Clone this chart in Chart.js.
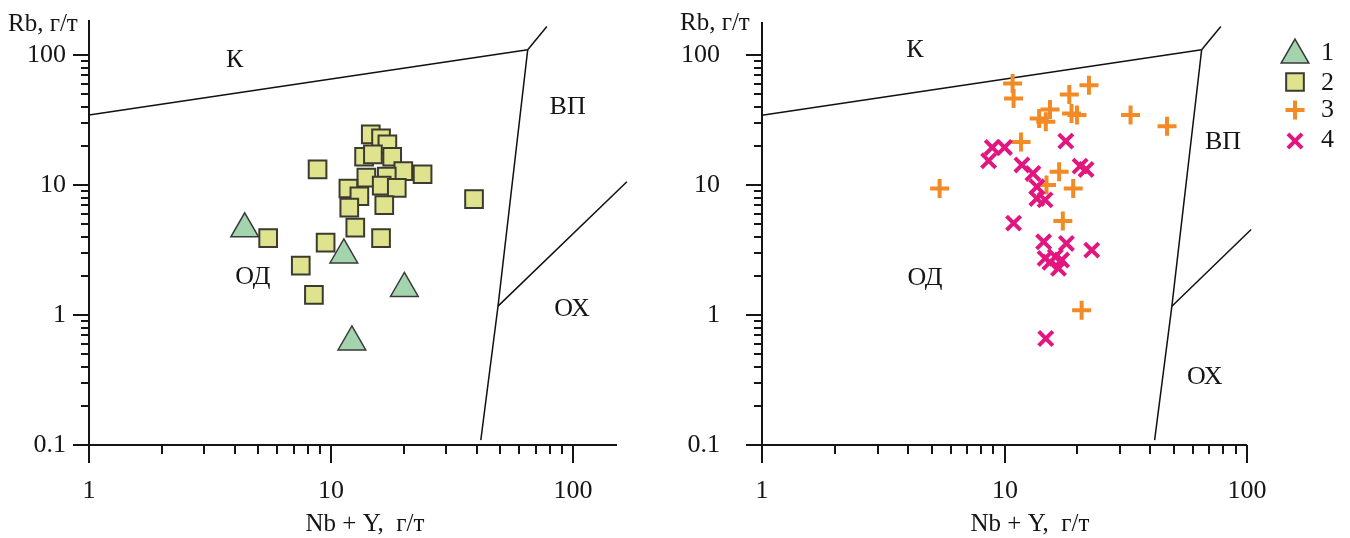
<!DOCTYPE html>
<html>
<head>
<meta charset="utf-8">
<script src="https://cdn.jsdelivr.net/npm/chart.js@4.4.1/dist/chart.umd.min.js"></script>
<style>
  html, body { margin: 0; padding: 0; background: #fff; }
  #wrap { position: relative; width: 1350px; height: 538px; }
  canvas { position: absolute; top: 0; }
  #left { left: 0; }
  #right { left: 675px; }
</style>
</head>
<body>
<div id="wrap">
  <canvas id="left" width="675" height="538"></canvas>
  <canvas id="right" width="675" height="538"></canvas>
</div>
<script>
// --- data (Nb+Y, Rb in г/т) ---
const g1X = [4.4, 11.3, 20.1, 12.2];
const g1Y = [4.6, 2.9, 1.6, 0.62];

const g2X = [14.6, 16.1, 17.1, 13.7, 14.9, 17.9, 19.9, 23.9, 14.0, 17.0, 16.2, 18.7, 11.8, 13.1, 16.6, 11.9, 12.6, 8.8, 39.0, 5.5, 9.5, 16.1, 7.5, 8.5];
const g2Y = [24.5, 22.9, 20.6, 16.5, 17.2, 16.5, 12.8, 12.1, 11.4, 11.6, 9.9, 9.5, 9.4, 8.2, 7.0, 6.7, 4.7, 13.2, 7.8, 3.9, 3.6, 3.9, 2.4, 1.43];

const g3X = [10.8, 10.9, 22.3, 18.5, 15.4, 13.9, 14.8, 18.9, 19.9, 33.1, 46.8, 11.7, 5.4, 16.8, 14.9, 19.2, 17.4, 20.8];
const g3Y = [60.6, 46.4, 58.8, 49.9, 38.2, 32.6, 30.7, 35.6, 34.6, 34.6, 28.4, 21.5, 9.4, 12.7, 10.0, 9.4, 5.3, 1.09];

const g4X = [17.9, 8.9, 10.0, 8.6, 11.8, 13.1, 20.5, 21.7, 13.6, 13.6, 14.7, 10.9, 14.5, 18.0, 22.9, 14.7, 16.2, 17.2, 16.7, 14.8, 15.4];
const g4Y = [21.8, 19.5, 19.5, 15.4, 14.3, 12.3, 14.0, 13.2, 9.7, 7.9, 7.7, 5.1, 3.66, 3.56, 3.16, 2.73, 2.81, 2.65, 2.29, 0.66, 2.55];

// field boundaries
const kLineX = [1, 65];       const kLineY = [34.5, 110];
const topLineX = [65, 78];    const topLineY = [110, 166];
const wpgLineX = [65, 49, 41.6]; const wpgLineY = [110, 1.17, 0.109];
const orgLeftX = [49, 167];   const orgLeftY = [1.17, 10.6];
const orgRightX = [49, 104];  const orgRightY = [1.17, 4.55];

// field names
const fieldNames = ['К', 'ВП', 'ОД', 'ОХ'];
const fieldLeftX = [4.0, 95, 4.76, 99];
const fieldLeftY = [92, 40, 1.96, 1.11];
const fieldRightX = [4.27, 79.6, 4.7, 67];
const fieldRightY = [109, 21.4, 1.93, 0.333];

const legendLabels = ['1', '2', '3', '4'];

const INK = '#151515';
const serif = size => size + 'px "Liberation Serif"';

const style1 = { pointStyle: 'triangle', radius: 16, bg: '#a3d4ad', border: '#3a3a3a', width: 1.5 };
const style2 = { pointStyle: 'rect', radius: 12.5, bg: '#dfe38e', border: '#3b3b30', width: 2 };
const style3 = { pointStyle: 'cross', radius: 9.5, bg: '#f28a25', border: '#f28a25', width: 4 };
const style4 = { pointStyle: 'crossRot', radius: 10, bg: '#e3157e', border: '#e3157e', width: 4 };

const pts = (xs, ys) => xs.map((x, i) => ({ x: x, y: ys[i] }));

function markerSet(label, xs, ys, s, order) {
    return {
        label: label,
        data: pts(xs, ys),
        pointStyle: s.pointStyle,
        pointRadius: s.radius,
        backgroundColor: s.bg,
        borderColor: s.border,
        borderWidth: s.width,
        order: order,
        clip: false
    };
}

function boundary(xs, ys) {
    return {
        data: pts(xs, ys),
        showLine: true,
        pointRadius: 0,
        borderColor: '#111',
        borderWidth: 1.5,
        fill: false,
        order: 10,
        clip: false
    };
}

function logTicks(min, max) {
    const out = [];
    for (let k = Math.floor(Math.log10(min)); k <= Math.ceil(Math.log10(max)); k++) {
        for (let m = 1; m <= 9; m++) {
            const v = m * Math.pow(10, k);
            if (v >= min * 0.999 && v <= max * 1.001) out.push({ v: v, major: m === 1 });
        }
    }
    return out;
}

// axes, ticks, labels, field names; optional legend
function framePlugin(cfg) {
    return {
        id: 'frame',
        beforeDatasetsDraw(chart) {
            const ctx = chart.ctx;
            const a = chart.chartArea;
            const xs = chart.scales.x, ys = chart.scales.y;
            ctx.save();
            ctx.strokeStyle = INK;
            ctx.fillStyle = INK;
            ctx.lineWidth = 2;
            ctx.beginPath();
            ctx.moveTo(a.left, a.top);
            ctx.lineTo(a.left, a.bottom);
            ctx.lineTo(a.right, a.bottom);
            ctx.stroke();

            ctx.font = serif(26);
            ctx.textBaseline = 'middle';

            // y ticks
            ctx.textAlign = 'right';
            logTicks(ys.min, ys.max).forEach(t => {
                const py = Math.round(ys.getPixelForValue(t.v));
                ctx.beginPath();
                ctx.moveTo(a.left - (t.major ? 16 : 8), py);
                ctx.lineTo(a.left, py);
                ctx.stroke();
                if (t.major) ctx.fillText(t.v >= 1 ? String(Math.round(t.v)) : String(t.v), a.left - cfg.yLabelGap, py);
            });

            // x ticks
            ctx.textAlign = 'center';
            logTicks(xs.min, xs.max).forEach(t => {
                const px = Math.round(xs.getPixelForValue(t.v));
                ctx.beginPath();
                ctx.moveTo(px, a.bottom);
                ctx.lineTo(px, a.bottom + (t.major ? 18 : 9));
                ctx.stroke();
                if (t.major) ctx.fillText(String(Math.round(t.v)), px, a.bottom + 46);
            });

            // axis titles
            ctx.font = serif(25);
            ctx.textBaseline = 'alphabetic';
            ctx.textAlign = 'left';
            ctx.fillText('Rb, г/т', cfg.yTitleX, cfg.yTitleY);
            ctx.textAlign = 'center';
            ctx.fillText('Nb + Y,  г/т', cfg.xTitleX, 531);

            // field names
            ctx.font = serif(26);
            ctx.textBaseline = 'middle';
            fieldNames.forEach((name, i) => {
                ctx.fillText(name, xs.getPixelForValue(cfg.fieldX[i]), ys.getPixelForValue(cfg.fieldY[i]));
            });
            ctx.restore();
        },
        afterDatasetsDraw(chart) {
            if (!cfg.legend) return;
            const ctx = chart.ctx;
            const styles = [style1, style2, style3, style4];
            const rowY = [55, 82, 110, 141];
            const textY = [53, 83, 110, 140];
            ctx.save();
            styles.forEach((s, i) => {
                ctx.fillStyle = s.bg;
                ctx.strokeStyle = s.border;
                ctx.lineWidth = s.width;
                Chart.helpers.drawPoint(ctx, { pointStyle: s.pointStyle, radius: s.radius, rotation: 0, borderWidth: s.width }, 620, rowY[i]);
            });
            ctx.fillStyle = INK;
            ctx.font = serif(26);
            ctx.textAlign = 'left';
            ctx.textBaseline = 'middle';
            legendLabels.forEach((t, i) => ctx.fillText(t, 646, textY[i]));
            ctx.restore();
        }
    };
}

function baseOptions(pad, xMax, yMax) {
    return {
        responsive: false,
        animation: false,
        events: [],
        layout: { padding: pad },
        plugins: { legend: { display: false }, tooltip: { enabled: false } },
        scales: {
            x: { type: 'logarithmic', display: false, min: 1, max: xMax },
            y: { type: 'logarithmic', display: false, min: 0.1, max: yMax }
        }
    };
}

Chart.defaults.font.family = '"Liberation Serif"';

new Chart(document.getElementById('left'), {
    type: 'scatter',
    data: {
        datasets: [
            markerSet('1', g1X, g1Y, style1, 0),
            markerSet('2', g2X, g2Y, style2, 1),
            boundary(kLineX, kLineY),
            boundary(topLineX, topLineY),
            boundary(wpgLineX, wpgLineY),
            boundary(orgLeftX, orgLeftY)
        ]
    },
    options: baseOptions({ left: 89, right: 58, top: 20, bottom: 93 }, 152, 186),
    plugins: [framePlugin({ yLabelGap: 23, yTitleX: 8, yTitleY: 31, xTitleX: 365, fieldX: fieldLeftX, fieldY: fieldLeftY, legend: false })]
});

new Chart(document.getElementById('right'), {
    type: 'scatter',
    data: {
        datasets: [
            markerSet('4', g4X, g4Y, style4, 0),
            markerSet('3', g3X, g3Y, style3, 1),
            boundary(kLineX, kLineY),
            boundary(topLineX, topLineY),
            boundary(wpgLineX, wpgLineY),
            boundary(orgRightX, orgRightY)
        ]
    },
    options: baseOptions({ left: 87, right: 103, top: 22, bottom: 93 }, 100, 180),
    plugins: [framePlugin({ yLabelGap: 42, yTitleX: 5, yTitleY: 30, xTitleX: 355, fieldX: fieldRightX, fieldY: fieldRightY, legend: true })]
});
</script>
</body>
</html>
